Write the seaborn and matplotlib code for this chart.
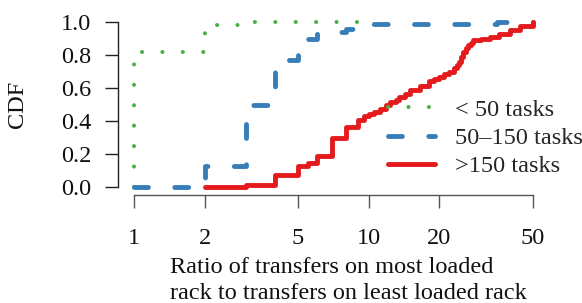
import numpy as np
import pandas as pd
import matplotlib
matplotlib.use("Agg")
import matplotlib.pyplot as plt
import seaborn as sns
from matplotlib.ticker import NullLocator

# CDF of load imbalance ratio, three job size classes
small_x = [1, 1, 2, 2.1, 3, 9]
small_y = [0, 0.82, 0.94, 0.98, 1.0, 1.0]

mid_x = [1, 2, 3, 4, 5, 6, 8, 10, 35, 50]
mid_y = [0, 0.13, 0.50, 0.77, 0.90, 0.94, 0.96, 0.985, 1.0, 1.0]

large_x = [2, 3, 4, 5, 5.5, 6, 7, 8, 9, 9.5, 10, 10.5, 11.2, 11.8, 12.3, 13,
           13.5, 14.2, 15, 16.5, 18, 19, 20, 21, 22, 23, 23.7, 24.2, 24.7,
           25.2, 26, 26.5, 27.2, 27.8, 30, 32.8, 36, 40, 44, 50]
large_y = [0, 0.015, 0.07, 0.13, 0.145, 0.19, 0.30, 0.365, 0.405, 0.43, 0.445,
           0.455, 0.475, 0.495, 0.515, 0.53, 0.545, 0.565, 0.585, 0.615, 0.64,
           0.652, 0.665, 0.683, 0.70, 0.72, 0.74, 0.76, 0.79, 0.82, 0.845,
           0.86, 0.875, 0.89, 0.90, 0.91, 0.93, 0.95, 0.975, 1.0]

labels = ["< 50 tasks", "50\u2013150 tasks", ">150 tasks"]
xticks = [1, 2, 5, 10, 20, 50]
yticks = [0.0, 0.2, 0.4, 0.6, 0.8, 1.0]

sns.set_style("ticks")
plt.rcParams["font.family"] = ["Liberation Serif", "DejaVu Serif"]
plt.rcParams["font.size"] = 17.5
plt.rcParams["lines.scale_dashes"] = False

fig = plt.figure(figsize=(5.82, 3.03), dpi=100)
W, H = 582, 303
ax = fig.add_axes([118 / W, 1 - 195 / H, (549 - 118) / W, (195 - 15) / H])

series = [
    (small_x, small_y, "#4DAF4A", 2.9, (0, (0.1, 14.6))),
    (mid_x, mid_y, "#377EB8", 3.5, (0, (10.0, 19.0))),
    (large_x, large_y, "#E41A1C", 3.5, "-"),
]
for x, y, c, lw, ls in series:
    df = pd.DataFrame({"ratio": x, "cdf": y})
    sns.lineplot(data=df, x="ratio", y="cdf", ax=ax, color=c, linewidth=lw,
                 linestyle=ls, drawstyle="steps-post", sort=False,
                 estimator=None, dash_capstyle="round",
                 solid_capstyle="round", solid_joinstyle="round")

ax.set_xscale("log")
ax.set_xlim(10 ** (-16 / 234.8), 10 ** (415 / 234.8))
ax.set_ylim(-8 / 165, 1 + 7 / 165)
ax.set_xticks(xticks)
ax.set_xticklabels([str(t) for t in xticks])
ax.xaxis.set_minor_locator(NullLocator())
ax.set_yticks(yticks)
ax.set_yticklabels([f"{t:.1f}" for t in yticks])

for s in ["top", "right"]:
    ax.spines[s].set_visible(False)
ax.spines["left"].set_bounds(0, 1)
ax.spines["bottom"].set_bounds(1, 50)
ax.spines["left"].set_color("#222222")
ax.spines["bottom"].set_color("#555555")
ax.spines["left"].set_linewidth(1.0)
ax.spines["bottom"].set_linewidth(1.0)
ax.tick_params(axis="y", length=9.4, width=1.0, color="#222222", pad=10,
               labelsize=17.5, labelcolor="#111111")
ax.tick_params(axis="x", length=9.4, width=1.0, color="#555555", pad=14.5,
               labelsize=17.5, labelcolor="#111111")

ax.set_ylabel("CDF", fontsize=17.5, color="#111111")
ax.yaxis.label.set_va("center")
ax.yaxis.set_label_coords((18 - 118) / 431, (195 - 104) / 180)

ax.set_xlabel("Ratio of transfers on most loaded\nrack to transfers on least loaded rack",
              fontsize=17.5, color="#111111", linespacing=1.28, ma="left")
ax.xaxis.label.set_va("center")
ax.xaxis.set_label_coords((348 - 118) / 431, (195 - 280.5) / 180)

ax.legend(ax.lines, labels, loc="center left", frameon=False,
          bbox_to_anchor=((388 - 118) / 431, (195 - 138) / 180),
          borderpad=0, borderaxespad=0, handlelength=1.95, handletextpad=0.8,
          labelspacing=0.25, fontsize=17.5)

fig.savefig("out.png", dpi=100)
